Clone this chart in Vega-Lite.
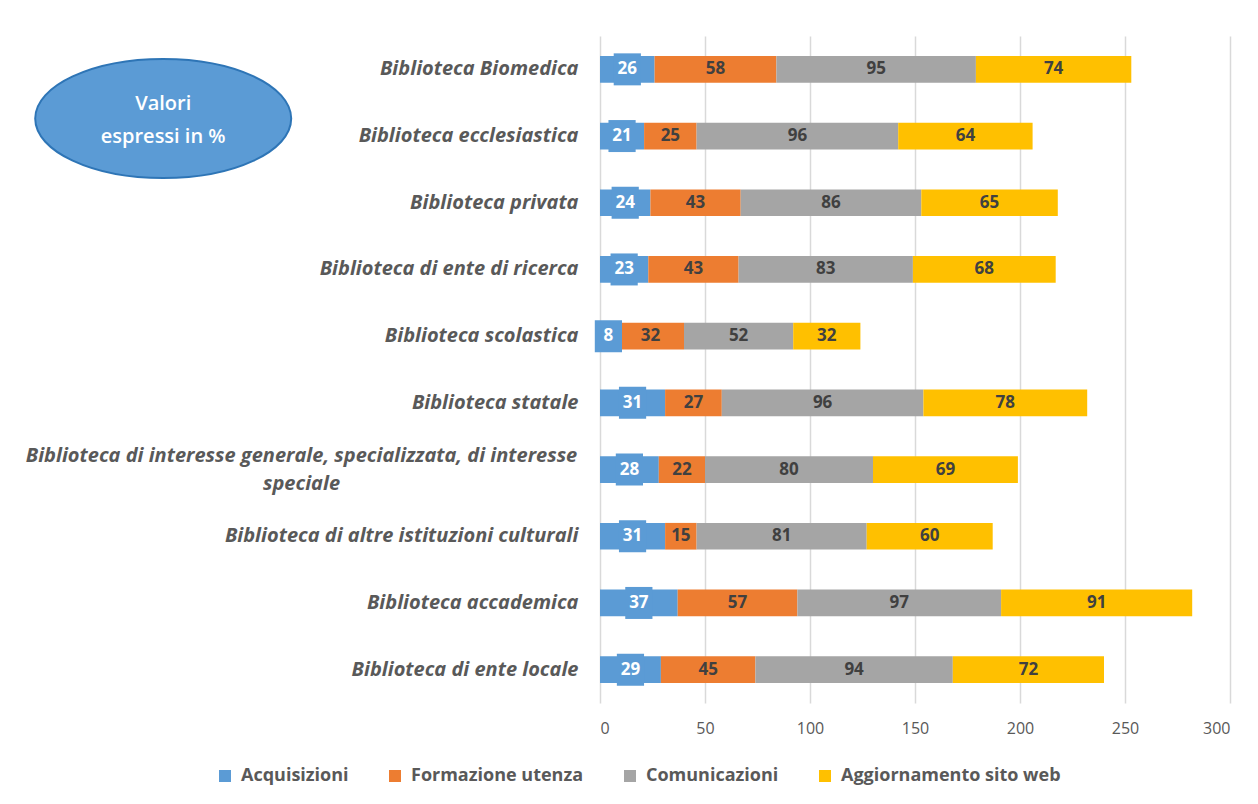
{
  "$schema": "https://vega.github.io/schema/vega-lite/v6.json",
  "width": 630,
  "height": 667,
  "autosize": {"type": "none"},
  "padding": {"left": 600, "top": 36, "right": 28, "bottom": 101},
  "background": "white",
  "config": {"view": {"stroke": null}, "font": "Open Sans"},
  "layer": [
    {
      "data": {
        "values": [
          {"cat": "Biblioteca Biomedica", "serie": "Acquisizioni", "v": 26},
          {"cat": "Biblioteca Biomedica", "serie": "Formazione utenza", "v": 58},
          {"cat": "Biblioteca Biomedica", "serie": "Comunicazioni", "v": 95},
          {"cat": "Biblioteca Biomedica", "serie": "Aggiornamento sito web", "v": 74},
          {"cat": "Biblioteca ecclesiastica", "serie": "Acquisizioni", "v": 21},
          {"cat": "Biblioteca ecclesiastica", "serie": "Formazione utenza", "v": 25},
          {"cat": "Biblioteca ecclesiastica", "serie": "Comunicazioni", "v": 96},
          {"cat": "Biblioteca ecclesiastica", "serie": "Aggiornamento sito web", "v": 64},
          {"cat": "Biblioteca privata", "serie": "Acquisizioni", "v": 24},
          {"cat": "Biblioteca privata", "serie": "Formazione utenza", "v": 43},
          {"cat": "Biblioteca privata", "serie": "Comunicazioni", "v": 86},
          {"cat": "Biblioteca privata", "serie": "Aggiornamento sito web", "v": 65},
          {"cat": "Biblioteca di ente di ricerca", "serie": "Acquisizioni", "v": 23},
          {"cat": "Biblioteca di ente di ricerca", "serie": "Formazione utenza", "v": 43},
          {"cat": "Biblioteca di ente di ricerca", "serie": "Comunicazioni", "v": 83},
          {"cat": "Biblioteca di ente di ricerca", "serie": "Aggiornamento sito web", "v": 68},
          {"cat": "Biblioteca scolastica", "serie": "Acquisizioni", "v": 8},
          {"cat": "Biblioteca scolastica", "serie": "Formazione utenza", "v": 32},
          {"cat": "Biblioteca scolastica", "serie": "Comunicazioni", "v": 52},
          {"cat": "Biblioteca scolastica", "serie": "Aggiornamento sito web", "v": 32},
          {"cat": "Biblioteca statale", "serie": "Acquisizioni", "v": 31},
          {"cat": "Biblioteca statale", "serie": "Formazione utenza", "v": 27},
          {"cat": "Biblioteca statale", "serie": "Comunicazioni", "v": 96},
          {"cat": "Biblioteca statale", "serie": "Aggiornamento sito web", "v": 78},
          {"cat": "Biblioteca di interesse generale,  specializzata, di interesse speciale", "serie": "Acquisizioni", "v": 28},
          {"cat": "Biblioteca di interesse generale,  specializzata, di interesse speciale", "serie": "Formazione utenza", "v": 22},
          {"cat": "Biblioteca di interesse generale,  specializzata, di interesse speciale", "serie": "Comunicazioni", "v": 80},
          {"cat": "Biblioteca di interesse generale,  specializzata, di interesse speciale", "serie": "Aggiornamento sito web", "v": 69},
          {"cat": "Biblioteca di altre istituzioni culturali", "serie": "Acquisizioni", "v": 31},
          {"cat": "Biblioteca di altre istituzioni culturali", "serie": "Formazione utenza", "v": 15},
          {"cat": "Biblioteca di altre istituzioni culturali", "serie": "Comunicazioni", "v": 81},
          {"cat": "Biblioteca di altre istituzioni culturali", "serie": "Aggiornamento sito web", "v": 60},
          {"cat": "Biblioteca accademica", "serie": "Acquisizioni", "v": 37},
          {"cat": "Biblioteca accademica", "serie": "Formazione utenza", "v": 57},
          {"cat": "Biblioteca accademica", "serie": "Comunicazioni", "v": 97},
          {"cat": "Biblioteca accademica", "serie": "Aggiornamento sito web", "v": 91},
          {"cat": "Biblioteca di ente locale", "serie": "Acquisizioni", "v": 29},
          {"cat": "Biblioteca di ente locale", "serie": "Formazione utenza", "v": 45},
          {"cat": "Biblioteca di ente locale", "serie": "Comunicazioni", "v": 94},
          {"cat": "Biblioteca di ente locale", "serie": "Aggiornamento sito web", "v": 72}
        ]
      },
      "transform": [
        {"calculate": "indexof(['Acquisizioni','Formazione utenza','Comunicazioni','Aggiornamento sito web'], datum.serie)", "as": "idx"},
        {"stack": "v", "groupby": ["cat"], "sort": [{"field": "idx", "order": "ascending"}], "as": ["v0", "v1"]},
        {"calculate": "(datum.v0 + datum.v1) / 2", "as": "mid"}
      ],
      "encoding": {
        "y": {
          "field": "cat",
          "type": "nominal",
          "sort": null,
          "title": null,
          "scale": {
            "domain": [
              "Biblioteca Biomedica",
              "Biblioteca ecclesiastica",
              "Biblioteca privata",
              "Biblioteca di ente di ricerca",
              "Biblioteca scolastica",
              "Biblioteca statale",
              "Biblioteca di interesse generale,  specializzata, di interesse speciale",
              "Biblioteca di altre istituzioni culturali",
              "Biblioteca accademica",
              "Biblioteca di ente locale"
            ],
            "paddingInner": 0.6,
            "paddingOuter": 0.3
          },
          "axis": {
            "ticks": false,
            "domain": false,
            "labelFont": "Open Sans",
            "labelFontSize": 20,
            "labelFontStyle": "italic",
            "labelFontWeight": "bold",
            "labelColor": "#595959",
            "labelPadding": {"condition": {"test": "indexof(datum.value, 'interesse') >= 0", "value": 299}, "value": 22},
            "labelAlign": {"condition": {"test": "indexof(datum.value, 'interesse') >= 0", "value": "center"}, "value": "right"},
            "labelOffset": {"condition": {"test": "indexof(datum.value, 'interesse') >= 0", "value": -14}, "value": 0},
            "labelLimit": 600,
            "labelLineHeight": 28,
            "labelExpr": "indexof(datum.value, 'interesse') >= 0 ? ['Biblioteca di interesse generale,  specializzata, di interesse', 'speciale'] : datum.label"
          }
        }
      },
      "layer": [
        {
          "mark": {"type": "bar"},
          "encoding": {
            "x": {
              "field": "v0",
              "type": "quantitative",
              "title": null,
              "scale": {"domain": [0, 300], "nice": false},
              "axis": {
                "values": [0, 50, 100, 150, 200, 250, 300],
                "grid": true,
                "gridColor": "#D9D9D9",
                "gridWidth": 1.5,
                "ticks": false,
                "domain": false,
                "labelFont": "Open Sans",
                "labelFontSize": 16,
                "labelColor": "#595959",
                "labelPadding": 17
              }
            },
            "x2": {"field": "v1"},
            "color": {
              "field": "serie",
              "type": "nominal",
              "sort": ["Acquisizioni", "Formazione utenza", "Comunicazioni", "Aggiornamento sito web"],
              "scale": {
                "domain": ["Acquisizioni", "Formazione utenza", "Comunicazioni", "Aggiornamento sito web"],
                "range": ["#5B9BD5", "#ED7D31", "#A5A5A5", "#FFC000"]
              },
              "legend": {
                "orient": "none",
                "legendX": -384,
                "legendY": 731,
                "direction": "horizontal",
                "columns": 4,
                "title": null,
                "symbolType": "square",
                "symbolSize": 144,
                "symbolStrokeWidth": 0,
                "labelFont": "Open Sans",
                "labelFontSize": 18,
                "labelFontWeight": "bold",
                "labelColor": "#595959",
                "labelLimit": 400,
                "columnPadding": 37,
                "labelOffset": 7,
                "padding": 0
              }
            }
          }
        },
        {
          "transform": [{"filter": "datum.serie === 'Acquisizioni'"}],
          "mark": {
            "type": "point",
            "shape": "M-0.85,-1H0.85V1H-0.85Z",
            "filled": true,
            "fill": "#5B9BD5",
            "opacity": 1,
            "strokeWidth": 0,
            "size": 1024
          },
          "encoding": {
            "x": {"field": "mid", "type": "quantitative", "scale": {"domain": [0, 300], "nice": false}}
          }
        },
        {
          "mark": {"type": "text", "font": "Open Sans", "fontSize": 17, "fontWeight": "bold", "align": "center", "baseline": "middle"},
          "encoding": {
            "x": {"field": "mid", "type": "quantitative", "scale": {"domain": [0, 300], "nice": false}},
            "text": {"field": "v", "type": "quantitative"},
            "color": {
              "condition": {"test": "datum.serie === 'Acquisizioni'", "value": "white"},
              "value": "#404040"
            }
          }
        }
      ]
    },
    {
      "data": {"values": [{"note": "Valori espressi in %"}]},
      "mark": {
        "type": "point",
        "shape": "M-1,0A1,0.465 0 1,1 1,0A1,0.465 0 1,1 -1,0Z",
        "filled": true,
        "fill": "#5B9BD5",
        "stroke": "#2E75B6",
        "strokeWidth": 2,
        "opacity": 1,
        "size": 65536,
        "yOffset": -17.5,
        "clip": false
      },
      "encoding": {
        "x": {"datum": -208, "type": "quantitative", "scale": {"domain": [0, 300], "nice": false}},
        "y": {"datum": "Biblioteca ecclesiastica", "type": "nominal"}
      }
    },
    {
      "data": {"values": [{"note": "Valori espressi in %"}]},
      "mark": {
        "type": "text",
        "font": "Open Sans",
        "fontSize": 20,
        "fontWeight": 600,
        "color": "white",
        "align": "center",
        "baseline": "middle",
        "lineHeight": 33,
        "yOffset": -32
      },
      "encoding": {
        "x": {"datum": -208, "type": "quantitative", "scale": {"domain": [0, 300], "nice": false}},
        "y": {"datum": "Biblioteca ecclesiastica", "type": "nominal"},
        "text": {"value": ["Valori", "espressi in %"]}
      }
    }
  ]
}
